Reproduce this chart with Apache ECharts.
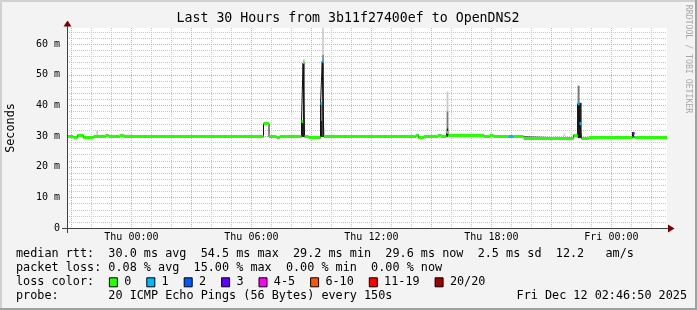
<!DOCTYPE html>
<html><head><meta charset="utf-8">
<script src="https://cdn.jsdelivr.net/npm/echarts@6/dist/echarts.min.js"></script>
<style>html,body{margin:0;padding:0;background:#f3f3f3}#c{width:697px;height:310px}</style>
</head><body><div id="c"></div>
<script>
// ---- data (time = hours relative to Thu 00:00) ----
const startHour = -3.21944;   // Wed 20:46:50
const endHour = 26.78056;     // Fri 02:46:50
const xTickHours = [0, 6, 12, 18, 24];
const xTickLabels = ['Thu 00:00', 'Thu 06:00', 'Thu 12:00', 'Thu 18:00', 'Fri 00:00'];
const yMax = 65.2;
const yTickValues = [0, 10, 20, 30, 40, 50, 60];
const yTickLabels = ['0', '10 m', '20 m', '30 m', '40 m', '50 m', '60 m'];

// median rtt (ms): segment start hour, value, lost pings (of 20)
const medianStart = [-3.219, -2.899, -2.699, -2.399, -1.898, -1.298, -1.148, -0.598, -0.398, 5.555,
  6.606, 6.881, 7.256, 7.406, 8.507, 8.582, 8.657, 8.857, 9.457, 9.542,
  9.622, 14.21, 14.36, 14.61, 15.31, 15.46, 15.76, 15.85, 17.61, 17.91,
  18.11, 18.86, 19.11, 19.61, 22.11, 22.31, 22.41, 22.51, 22.86, 25.06, 25.16];
const medianValue = [29.7, 29.5, 30.2, 29.5, 29.7, 30.2, 29.7, 30.2, 29.7, 29.8,
  34.0, 29.7, 29.5, 29.7, 34.6, 53.8, 29.7, 29.5, 40.5, 54.3,
  29.7, 30.3, 29.4, 29.7, 30.3, 29.8, 31.0, 30.3, 29.7, 30.1,
  29.7, 29.7, 29.7, 29.3, 30.3, 40.5, 34.2, 29.1, 29.4, 30.7, 29.5];
const medianLoss = [0, 0, 0, 0, 0, 0, 0, 0, 0, 0,
  0, 0, 0, 0, 0, 0, 0, 0, 1, 1,
  0, 0, 0, 0, 0, 0, 0, 0, 0, 0,
  0, 1, 0, 0, 0, 1, 1, 0, 0, 3, 0];

// smoke (ping spread): [start hour, end hour, low ms, high ms]
const smokeDense = [[8.507, 8.582, 29.7, 34.6], [8.582, 8.657, 29.7, 53.8], [9.457, 9.542, 29.7, 35.0],
  [9.542, 9.622, 29.7, 54.3], [15.76, 15.85, 29.8, 32.5], [22.31, 22.51, 29.3, 40.8], [25.03, 25.11, 29.4, 31.3]];
const smokeMedium = [[9.457, 9.542, 35.0, 40.5], [9.542, 9.622, 54.3, 56.5], [15.76, 15.85, 32.5, 38.0],
  [22.31, 22.41, 40.8, 46.4]];
const smokeSparse = [[8.582, 8.657, 53.8, 55.0], [9.542, 9.622, 56.5, 65.2], [15.76, 15.85, 38.0, 44.5],
  [-1.75, -1.70, 30.3, 31.8], [21.61, 21.66, 30.0, 30.8]];

const lossLabels = ['0', '1', '2', '3', '4-5', '6-10', '11-19', '20/20'];
const lossUpper = [0, 1, 2, 3, 5, 10, 19, 20];

const statLines = [
  'median rtt:  30.0 ms avg  54.5 ms max  29.2 ms min  29.6 ms now  2.5 ms sd  12.2   am/s',
  'packet loss: 0.08 % avg  15.00 % max  0.00 % min  0.00 % now'
];
const probeText = 'probe:       20 ICMP Echo Pings (56 Bytes) every 150s';
const dateText = 'Fri Dec 12 02:46:50 2025';
const titleText = 'Last 30 Hours from 3b11f27400ef to OpenDNS2';

// ---- styles ----
const lossColors = ['#26ff00', '#00b8ff', '#0059ff', '#5e00ff', '#ff00ff', '#ff5500', '#ff0000', '#a10000'];
const MONO = '"DejaVu Sans Mono", monospace';
const redGrid = '#f0a0a0', grayGrid = '#c6c6c6';

function lossClass(n) { for (let i = 0; i < lossUpper.length; i++) if (n <= lossUpper[i]) return i; return 7; }

const bandData = medianStart.map((s, i) => [s, i < medianStart.length - 1 ? medianStart[i + 1] : endHour, medianValue[i], medianLoss[i]]);
const lineData = medianStart.map((s, i) => [s, medianValue[i]]).concat([[endHour, medianValue[medianValue.length - 1]]]);

const hourGrid = [];
for (let h = Math.ceil(startHour); h <= Math.floor(endHour); h++) hourGrid.push([h]);
const minorY = [], majorY = [];
for (let v = 2; v < yMax; v += 2) (v % 10 === 0 ? majorY : minorY).push([v]);

function smokeSeries(data, color, z) {
  return {
    type: 'custom', z: z, clip: true, silent: true, data: data, encode: { x: [0, 1], y: [2, 3] },
    renderItem(params, api) {
      const a = api.coord([api.value(0), api.value(3)]);
      const b = api.coord([api.value(1), api.value(2)]);
      let w = b[0] - a[0]; if (w < 1.6) w = 1.6;
      return { type: 'rect', shape: { x: a[0], y: a[1], width: w, height: b[1] - a[1] }, style: { fill: color } };
    }
  };
}
function vGrid(data, color) {
  return {
    type: 'custom', z: 1, silent: true, clip: true, data: data, encode: { x: 0 },
    renderItem(params, api) {
      const a = api.coord([api.value(0), yMax]);
      const b = api.coord([api.value(0), 0]);
      const x = Math.round(a[0]) + 0.5;
      return { type: 'line', shape: { x1: x, y1: a[1], x2: x, y2: b[1] }, style: { stroke: color, lineWidth: 1, lineDash: [1, 1] } };
    }
  };
}
function hGrid(data, color) {
  return {
    type: 'custom', z: 1, silent: true, clip: true, data: data, encode: { y: 0 },
    renderItem(params, api) {
      const a = api.coord([startHour, api.value(0)]);
      const b = api.coord([endHour, api.value(0)]);
      const y = Math.round(a[1]) + 0.5;
      return { type: 'line', shape: { x1: a[0], y1: y, x2: b[0], y2: y }, style: { stroke: color, lineWidth: 1, lineDash: [1, 1] } };
    }
  };
}

const graphics = [
  { type: 'rect', shape: { x: 0, y: 0, width: 697, height: 2 }, style: { fill: '#d0d0d0' }, silent: true },
  { type: 'rect', shape: { x: 0, y: 0, width: 2, height: 310 }, style: { fill: '#d0d0d0' }, silent: true },
  { type: 'rect', shape: { x: 0, y: 308, width: 697, height: 2 }, style: { fill: '#a0a0a0' }, silent: true },
  { type: 'rect', shape: { x: 695, y: 0, width: 2, height: 310 }, style: { fill: '#a0a0a0' }, silent: true },
  { type: 'line', shape: { x1: 62, y1: 228.5, x2: 668, y2: 228.5 }, style: { stroke: '#404040', lineWidth: 1 }, z: 99 },
  { type: 'line', shape: { x1: 67.5, y1: 233, x2: 67.5, y2: 26 }, style: { stroke: '#404040', lineWidth: 1 }, z: 99 },
  { type: 'text', x: 348, y: 19, style: { text: titleText, font: '13.25px ' + MONO, fill: '#000', align: 'center', verticalAlign: 'middle' } },
  { type: 'text', x: 11, y: 128, rotation: Math.PI / 2, style: { text: 'Seconds', font: '11.8px ' + MONO, fill: '#000', align: 'center', verticalAlign: 'middle' } },
  { type: 'text', x: 688, y: 59, rotation: -Math.PI / 2, style: { text: 'RRDTOOL / TOBI OETIKER', font: '8.2px ' + MONO, fill: '#a8a8a8', align: 'center', verticalAlign: 'middle' } },
  { type: 'polygon', shape: { points: [[63.5, 26.5], [71.5, 26.5], [67.5, 20.5]] }, style: { fill: '#800000' }, z: 100 },
  { type: 'polygon', shape: { points: [[668, 224.5], [668, 232.5], [674.5, 228.5]] }, style: { fill: '#800000' }, z: 100 }
];
const lineYs = [254.3, 268.3];
statLines.forEach((t, i) => graphics.push({ type: 'text', x: 16, y: lineYs[i], style: { text: t, font: '11.8px ' + MONO, fill: '#000', verticalAlign: 'middle' } }));
graphics.push({ type: 'text', x: 16, y: 282.3, style: { text: 'loss color:', font: '11.8px ' + MONO, fill: '#000', verticalAlign: 'middle' } });
let bx = 108.9;
lossLabels.forEach((lab, i) => {
  graphics.push({ type: 'rect', shape: { x: bx + 0.5, y: 277.8, width: 8, height: 9 }, style: { fill: lossColors[i], stroke: '#000', lineWidth: 1 } });
  graphics.push({ type: 'text', x: bx + 15.3, y: 282.3, style: { text: lab, font: '11.8px ' + MONO, fill: '#000', verticalAlign: 'middle' } });
  bx = bx + 15.3 + lab.length * 7.1 + 15;
});
graphics.push({ type: 'text', x: 16, y: 296, style: { text: probeText, font: '11.8px ' + MONO, fill: '#000', verticalAlign: 'middle' } });
graphics.push({ type: 'text', x: 687, y: 296, style: { text: dateText, font: '11.8px ' + MONO, fill: '#000', align: 'right', verticalAlign: 'middle' } });

const chart = echarts.init(document.getElementById('c'), null, { renderer: 'canvas' });
chart.setOption({
  animation: false,
  backgroundColor: '#f3f3f3',
  grid: { left: 67, right: 30, top: 28, bottom: 82, show: true, backgroundColor: '#ffffff', borderWidth: 0 },
  xAxis: {
    type: 'value', min: startHour, max: endHour,
    axisLine: { show: false },
    axisTick: { show: false },
    splitLine: { show: false },
    axisLabel: {
      customValues: xTickHours, margin: 4, color: '#000', fontFamily: MONO, fontSize: 10,
      formatter: v => { const i = xTickHours.indexOf(v); return i >= 0 ? xTickLabels[i] : ''; }
    }
  },
  yAxis: {
    type: 'value', min: 0, max: yMax, interval: 10,
    axisLine: { show: false },
    axisTick: { show: false },
    splitLine: { show: false },
    axisLabel: {
      margin: 7, color: '#000', fontFamily: MONO, fontSize: 10, showMaxLabel: false,
      formatter: v => { const i = yTickValues.indexOf(v); return i >= 0 ? yTickLabels[i] : ''; }
    }
  },
  graphic: graphics,
  series: [
    vGrid(hourGrid.filter(d => ((d[0] % 3) + 3) % 3 !== 0), grayGrid),
    hGrid(minorY, grayGrid),
    vGrid(hourGrid.filter(d => ((d[0] % 3) + 3) % 3 === 0), redGrid),
    hGrid(majorY, redGrid),
    smokeSeries(smokeSparse, '#c9c9c9', 2),
    smokeSeries(smokeMedium, '#7a7a7a', 3),
    smokeSeries(smokeDense, '#1c1c1c', 4),
    { type: 'line', step: 'end', data: lineData, symbol: 'none', silent: true, z: 5, lineStyle: { color: '#111', width: 1 } },
    {
      type: 'custom', z: 6, clip: true, silent: true, data: bandData, encode: { x: [0, 1], y: 2 },
      renderItem(params, api) {
        const a = api.coord([api.value(0), api.value(2)]);
        const b = api.coord([api.value(1), api.value(2)]);
        const y = Math.round(a[1] - 1.5);
        return { type: 'rect', shape: { x: a[0], y: y, width: b[0] - a[0], height: 3 }, style: { fill: lossColors[lossClass(api.value(3))] } };
      }
    }
  ]
});
</script></body></html>
